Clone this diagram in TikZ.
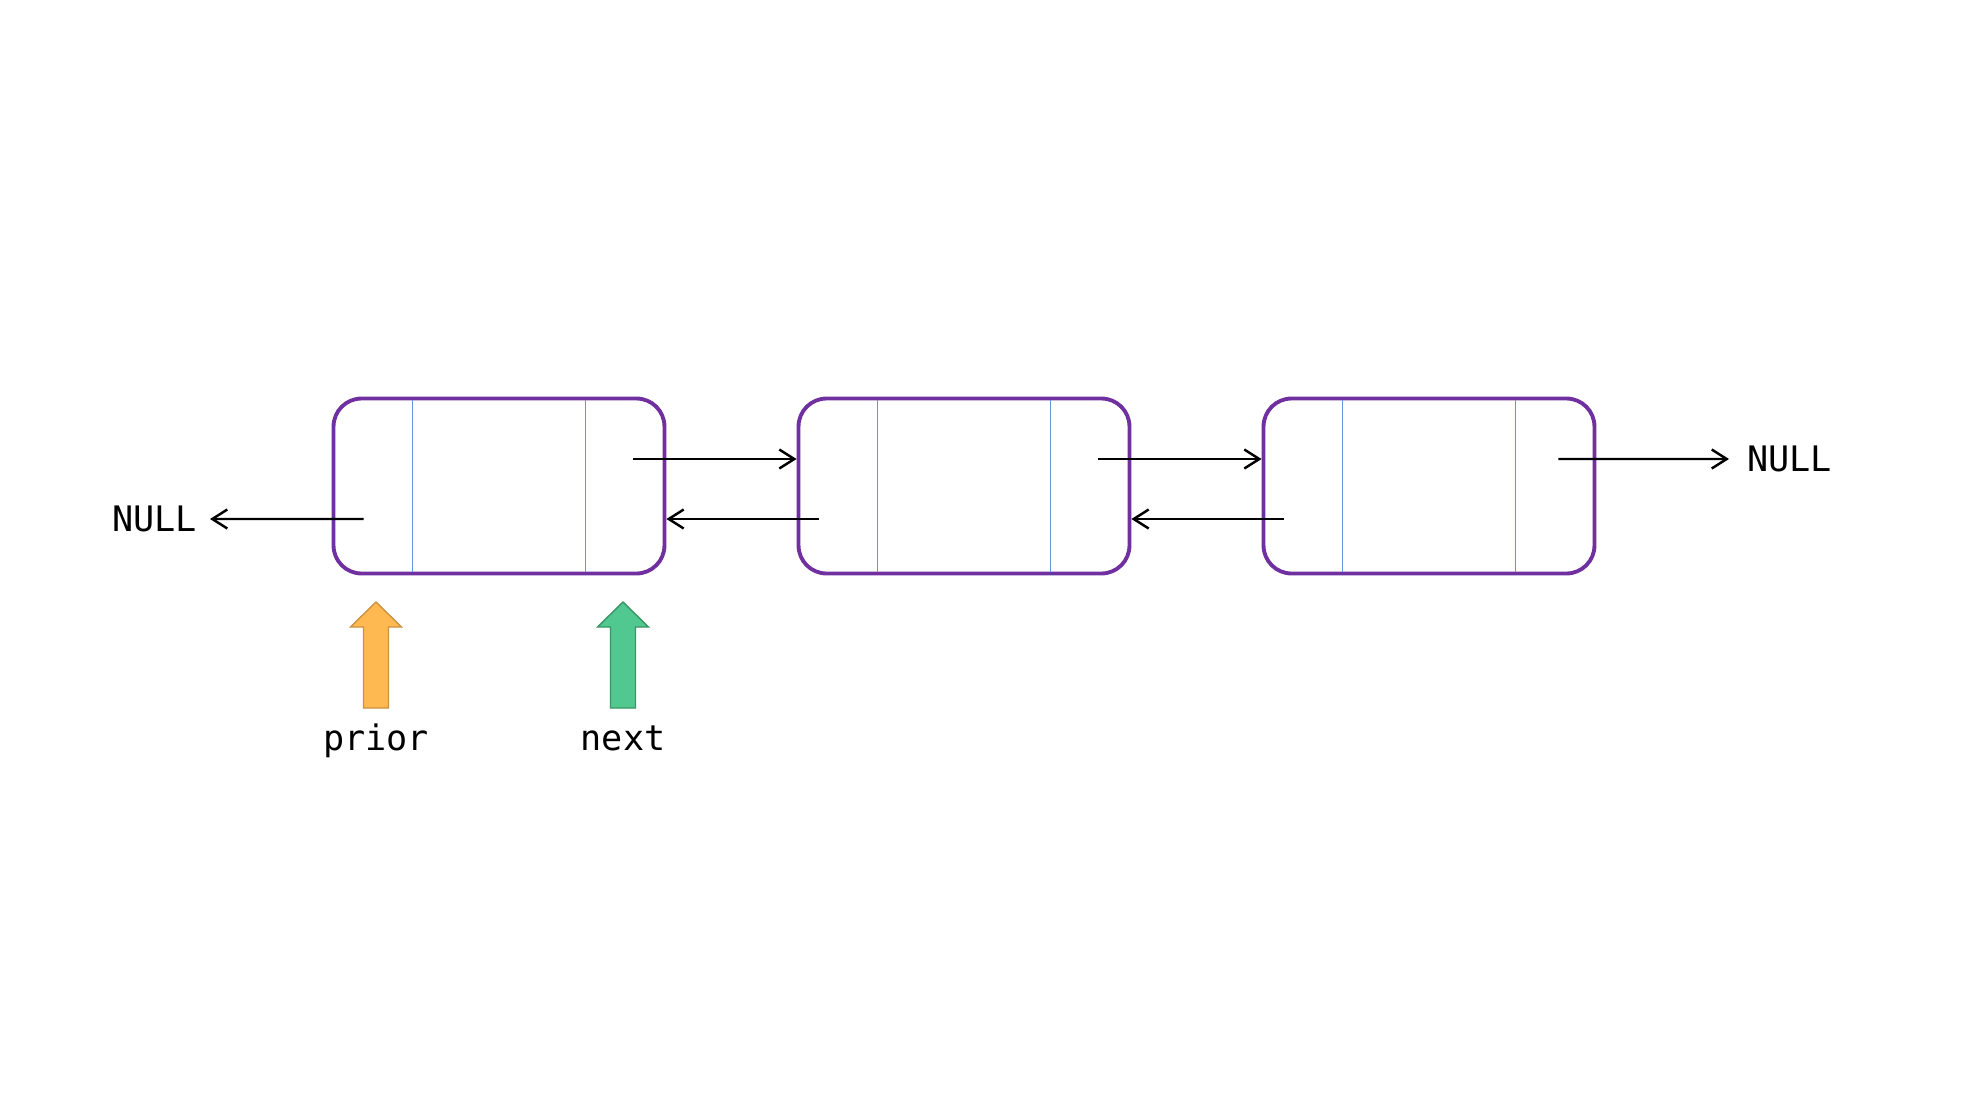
\documentclass[tikz,border=0pt]{standalone}
\usepackage{fontspec}
\setmonofont{DejaVu Sans Mono}
\usetikzlibrary{arrows.meta}
\definecolor{nodepurple}{RGB}{112,48,160}
\definecolor{fieldblue}{RGB}{100,150,220}
\definecolor{priorfill}{RGB}{255,185,80}
\definecolor{priordraw}{RGB}{205,145,65}
\definecolor{nextfill}{RGB}{82,200,145}
\definecolor{nextdraw}{RGB}{55,150,100}
\begin{document}
\begin{tikzpicture}[x=0.02cm, y=-0.02cm,
  listnode/.style={draw=nodepurple, line width=2.2pt, rounded corners=0.56cm, minimum width=6.62cm, minimum height=3.5cm, inner sep=0pt},
  field/.style={draw=fieldblue, line width=0.75pt, shorten <=2.2pt, shorten >=2.2pt},
  link/.style={line width=1.4pt, -{Straight Barb[length=0.3cm, width=0.38cm]}},
  monotext/.style={font=\ttfamily\fontsize{20}{24}\selectfont, inner ysep=0pt},
  priorarrow/.style={fill=priorfill, draw=priordraw, line width=0.8pt},
  nextarrow/.style={fill=nextfill, draw=nextdraw, line width=0.8pt}]
\useasboundingbox (0,0) rectangle (1962,1096);

% Draw the three list nodes
\node[listnode] (b1) at (499,486) {};
\node[listnode] (b2) at (964,486) {};
\node[listnode] (b3) at (1429,486) {};

% Split each node into prior | data | next
\draw[field] ([xshift=1.62cm]b1.north west) -- ([xshift=1.62cm]b1.south west);
\draw[field] ([xshift=-1.62cm]b1.north east) -- ([xshift=-1.62cm]b1.south east);
\draw[field] ([xshift=1.62cm]b2.north west) -- ([xshift=1.62cm]b2.south west);
\draw[field] ([xshift=-1.62cm]b2.north east) -- ([xshift=-1.62cm]b2.south east);
\draw[field] ([xshift=1.62cm]b3.north west) -- ([xshift=1.62cm]b3.south west);
\draw[field] ([xshift=-1.62cm]b3.north east) -- ([xshift=-1.62cm]b3.south east);

% NULL ends
\node[monotext, anchor=east, inner xsep=0.26cm] (nullL) at (210,519) {NULL};
\node[monotext, anchor=west, inner xsep=0.36cm] (nullR) at (1729,459) {NULL};

% Links between the nodes
\draw[link] ([xshift=0.64cm, yshift=-0.66cm]b1.west) -- (nullL.east);
\draw[link] ([xshift=-0.66cm, yshift=0.54cm]b1.east) -- ([yshift=0.54cm]b2.west);
\draw[link] ([xshift=0.44cm, yshift=-0.66cm]b2.west) -- ([yshift=-0.66cm]b1.east);
\draw[link] ([xshift=-0.66cm, yshift=0.54cm]b2.east) -- ([yshift=0.54cm]b3.west);
\draw[link] ([xshift=0.44cm, yshift=-0.66cm]b3.west) -- ([yshift=-0.66cm]b2.east);
\draw[link] ([xshift=-0.76cm, yshift=0.54cm]b3.east) -- (nullR.west);

% The two pointers
\draw[priorarrow] (363.5,708) -- (363.5,627) -- (350.5,627) -- (376,602) -- (401.5,627) -- (388.5,627) -- (388.5,708) -- cycle;
\draw[nextarrow] (610.5,708) -- (610.5,627) -- (597.5,627) -- (623,602) -- (648.5,627) -- (635.5,627) -- (635.5,708) -- cycle;
\node[monotext, anchor=base] (prior) at (376,750) {prior};
\node[monotext, anchor=base] (next) at (623,750) {next};
\end{tikzpicture}
\end{document}
